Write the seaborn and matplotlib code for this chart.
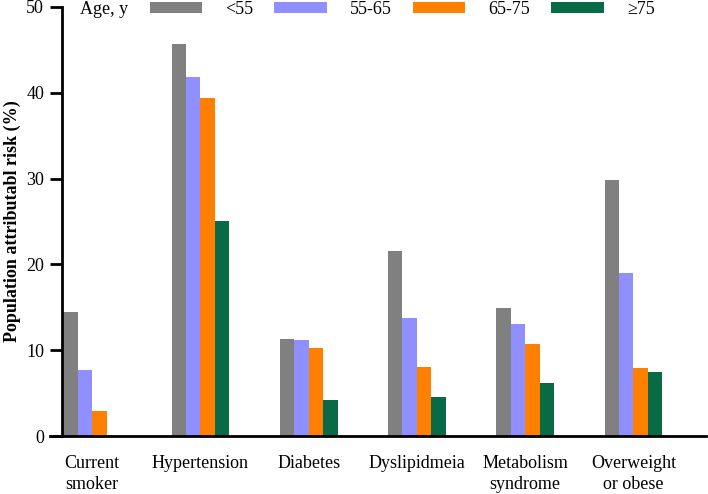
import numpy as np
import pandas as pd
import matplotlib
matplotlib.use("Agg")
import matplotlib.pyplot as plt
import seaborn as sns

# risk factors (x categories) and age groups (hue)
factors = ["Current\nsmoker", "Hypertension", "Diabetes", "Dyslipidmeia",
           "Metabolism\nsyndrome", "Overweight\nor obese"]
ages = ["<55", "55-65", "65-75", "\u226575"]

# population attributable risk (%)
par_lt55 = [14.5, 45.7, 11.3, 21.6, 14.9, 29.8]
par_55_65 = [7.7, 41.8, 11.2, 13.8, 13.1, 19.0]
par_65_75 = [2.9, 39.4, 10.3, 8.0, 10.7, 7.9]
par_ge75 = [0.0, 25.1, 4.2, 4.5, 6.2, 7.5]

colors = ["#808080", "#8f8fff", "#ff8000", "#086b45"]

rows = []
for age, vals in zip(ages, [par_lt55, par_55_65, par_65_75, par_ge75]):
    for f, v in zip(factors, vals):
        rows.append({"factor": f, "age": age, "par": v})
df = pd.DataFrame(rows)

sns.set_style("ticks")
plt.rcParams['font.family'] = ['Liberation Serif', 'DejaVu Serif']
plt.rcParams['text.color'] = 'black'
plt.rcParams['axes.labelcolor'] = 'black'
plt.rcParams['xtick.color'] = 'black'
plt.rcParams['ytick.color'] = 'black'
plt.rcParams['axes.edgecolor'] = 'black'

fig = plt.figure(figsize=(7.08, 4.94), dpi=100)
ax = fig.add_axes([50/708, 1-436/494, 656/708, 429/494])

sns.barplot(data=df, x="factor", y="par", hue="age", order=factors, hue_order=ages,
            palette=colors, width=0.535, linewidth=0, saturation=1, ax=ax)

ax.set_xlim(-0.39, 5.67)
ax.set_ylim(0, 50)
ax.set_yticks([0, 10, 20, 30, 40, 50])
ax.spines['left'].set_position(('data', -0.277))
ax.spines['top'].set_visible(False)
ax.spines['right'].set_visible(False)
for s in ['left', 'bottom']:
    ax.spines[s].set_linewidth(2)
ax.tick_params(axis='y', length=9, width=2, labelsize=13, pad=4)
ax.tick_params(axis='x', length=0, labelsize=13, pad=14)
for lab in ax.get_xticklabels():
    lab.set_linespacing(1.25)
ax.set_xlabel("")
ax.set_ylabel("Population attributabl risk (%)", fontsize=13, fontweight='bold', labelpad=4)

handles, labels = ax.get_legend_handles_labels()
ax.legend(handles, labels, ncol=4, loc="center left", bbox_to_anchor=(0.152, 0.995),
          frameon=False, fontsize=13, handlelength=2.9, handleheight=0.6,
          handletextpad=1.3, columnspacing=1.15, borderaxespad=0, borderpad=0)
ax.text(0.045, 0.995, "Age, y", transform=ax.transAxes, fontsize=13,
        va="center", ha="left")

fig.savefig("out.png", dpi=100)
